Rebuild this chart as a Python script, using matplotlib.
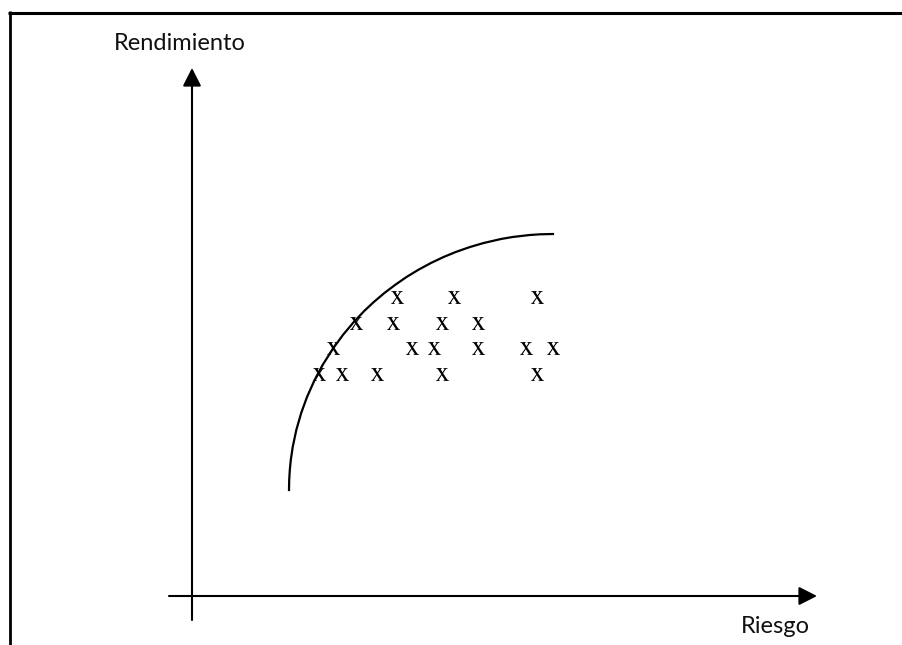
import matplotlib.pyplot as plt

plt.rcParams['mathtext.fontset'] = 'stix'

# frontera eficiente (riesgo, rendimiento)
curva_riesgo = [97, 97.2, 97.8, 98.8, 100.7, 104.3, 109.2, 115, 122.6, 130.6, 141.4, 150.9, 161.8,
                172.2, 181.8, 192.4, 203, 214.5, 226, 238.9, 251.6, 263.7, 278, 291.7, 309,
                320.6, 337.7, 348.2, 361]
curva_rend = [106, 116, 126, 136, 149, 166, 183, 199, 216, 231, 248, 261, 274,
              285, 294, 303, 311, 319, 326, 333, 339, 344, 349, 353, 357,
              359, 361, 361.7, 362]

# carteras (marcadas con x)
cart_riesgo = [205, 262, 345,
               164, 201, 250, 286,
               141, 220, 242, 286, 334, 361,
               127, 150, 185, 250, 345]
cart_rend = [299, 299, 299,
             273, 273, 273, 273,
             248, 248, 248, 248, 248, 248,
             222, 222, 222, 222, 222]

eje_x = [-23, 625]
eje_y = [-24, 528]

fig = plt.figure(figsize=(9.03, 6.45), dpi=100)
ax = fig.add_axes([0, 0, 1, 1])
ax.set_xlim(-192, 711)
ax.set_ylim(-49, 596)
ax.axis('off')

# marco
ax.plot([8 / 903, 1], [1 - 12.5 / 645] * 2, transform=ax.transAxes, color='black', lw=2.2, solid_capstyle='butt')
ax.plot([9.7 / 903] * 2, [0, 1 - 11 / 645], transform=ax.transAxes, color='black', lw=2.0, solid_capstyle='butt')

# ejes con flechas
flecha = dict(arrowstyle='-|>,head_length=11,head_width=5.6', mutation_scale=1,
              lw=1.5, color='black', shrinkA=0, shrinkB=0)
ax.annotate('', xy=(eje_x[1], 0), xytext=(eje_x[0], 0), arrowprops=flecha)
ax.annotate('', xy=(0, eje_y[1]), xytext=(0, eje_y[0]), arrowprops=flecha)

ax.plot(curva_riesgo, curva_rend, color='black', lw=1.6, solid_joinstyle='round')
ax.plot(cart_riesgo, cart_rend, ls='none', marker=r'$\mathrm{x}$', ms=9.5, mew=0, color='black')

ax.text(-12, 546, 'Rendimiento', ha='center', va='baseline', fontsize=17, family='Lato', color='#111111')
ax.text(583, -37, 'Riesgo', ha='center', va='baseline', fontsize=17, family='Lato', color='#111111')

plt.savefig('out.png', dpi=100)
